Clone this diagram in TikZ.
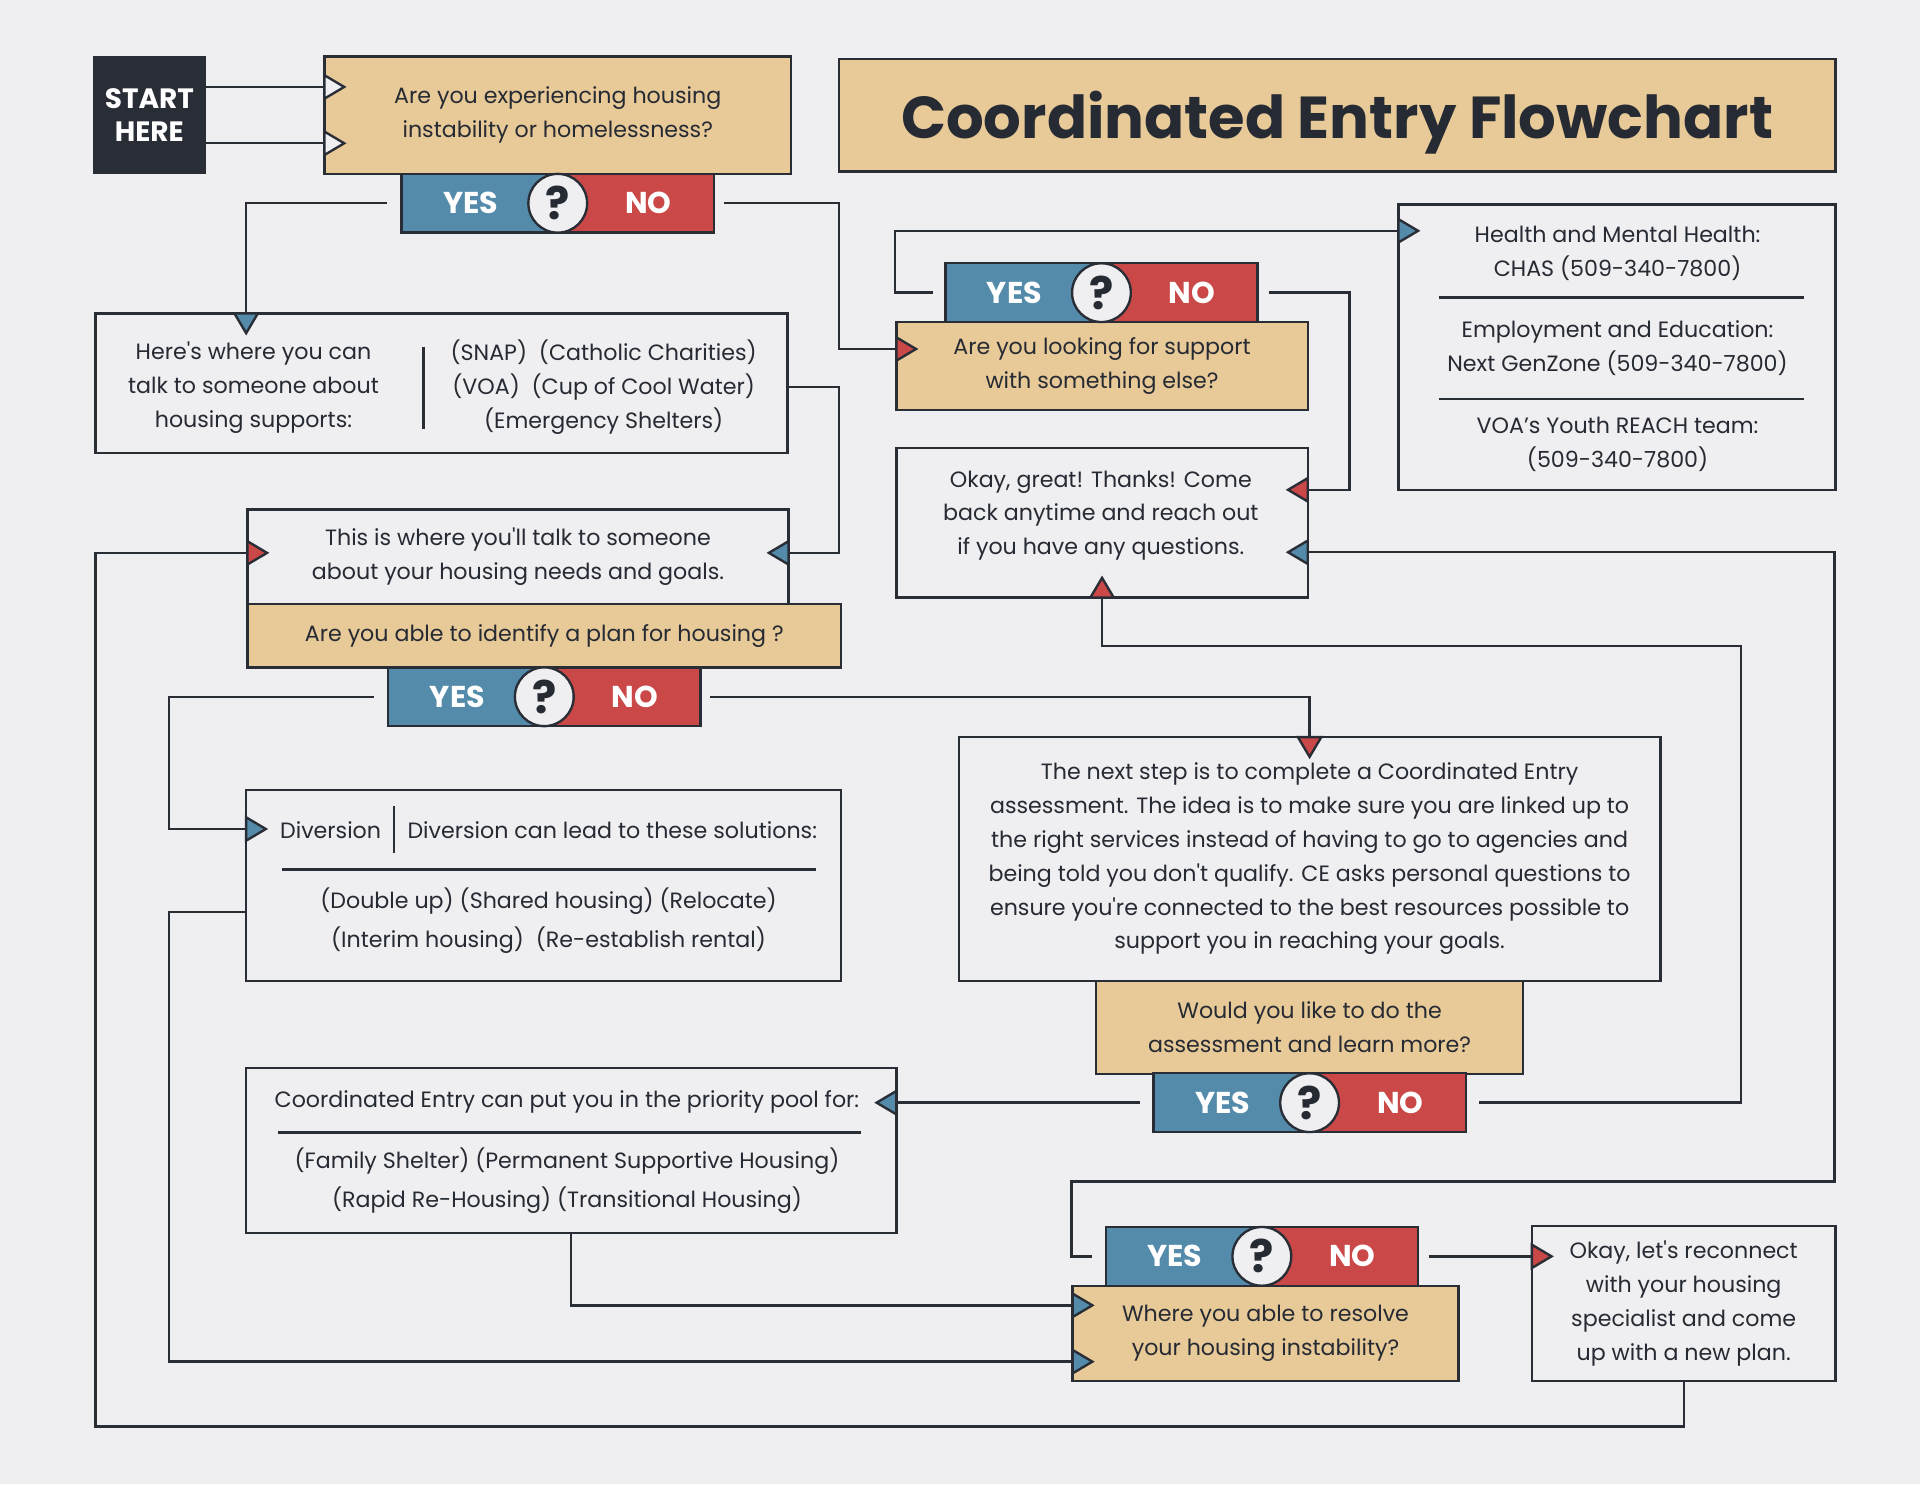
\documentclass[tikz,border=0pt]{standalone}
\usepackage{fontspec}
\setmainfont{Poppins}[Ligatures=TeXOff]
\usepackage{xcolor}
\usepackage{tikz}
\usetikzlibrary{arrows.meta, positioning, calc}

\definecolor{cbg}{RGB}{239,238,241}
\definecolor{cdark}{RGB}{40,45,54}
\definecolor{ctext}{RGB}{38,42,50}
\definecolor{ctan}{RGB}{232,202,153}
\definecolor{cblue}{RGB}{84,139,170}
\definecolor{cred}{RGB}{203,72,72}

\newcommand{\bodyfont}{\fontsize{10.3}{15.7}\selectfont}
\newcommand{\widefont}{\fontsize{10.3}{18.2}\selectfont}

\tikzset{
  %% Plain box (no fill colour of its own)
  ibox/.style={
    rectangle, draw=cdark, fill=cbg,
    line width=1.1pt, inner sep=0pt,
    align=center, font=\bodyfont
  },
  %% Question box
  qbox/.style={ibox, fill=ctan},
  %% Free text inside a box
  txt/.style={align=center, inner sep=0pt, font=\bodyfont},
  wide/.style={font=\widefont},
  %% Rules inside boxes
  rule/.style={draw=cdark, line width=1.1pt},
  %% Connector
  conn/.style={draw=cdark, line width=1.1pt, line join=miter},
  arrB/.style={-{Triangle[length=3.8mm,width=4.4mm,fill=cblue]}},
  arrR/.style={-{Triangle[length=3.8mm,width=4.4mm,fill=cred]}},
  arrW/.style={-{Triangle[length=3.8mm,width=4.4mm,fill=cbg]}},
  %% Start and title
  startbox/.style={
    rectangle, fill=cdark, text=white, align=center,
    minimum width=18.4mm, minimum height=19.2mm, inner sep=0pt,
    font=\fontsize{13}{15.4}\selectfont\bfseries
  },
  titlebox/.style={
    qbox, minimum width=162.8mm, minimum height=18.4mm,
    text depth=0pt,
    font=\fontsize{27.5}{27.5}\selectfont\bfseries
  },
  %% YES / ? / NO bar
  ynbar/.style={
    rectangle, draw=cdark, line width=1.1pt,
    minimum width=51mm, minimum height=9.6mm, inner sep=0pt,
    path picture={
      \fill[cblue] (path picture bounding box.south west)
        rectangle (path picture bounding box.north);
      \fill[cred] (path picture bounding box.south)
        rectangle (path picture bounding box.north east);
    }
  },
  ynq/.style={
    circle, draw=cdark, fill=cbg, line width=1.1pt,
    minimum size=9.6mm, inner sep=0pt, text=ctext,
    font=\fontsize{21}{21}\selectfont\bfseries
  },
  ynword/.style={text=white, inner sep=0pt,
    font=\fontsize{14}{14}\selectfont\bfseries},
  yesno/.pic={
    \node[ynbar] (-bar) at (0,0) {};
    \node[ynq] (-q) at (0,0) {?};
    \node[ynword] (-yes) at (-71,0) {YES};
    \node[ynword] (-no) at (74,0) {NO};
  },
}

\begin{document}
\begin{tikzpicture}[x=0.2mm, y=-0.2mm, text=ctext, font=\bodyfont]
  \fill[cbg, use as bounding box] (0,0) rectangle (1568,1212);

  % top row
  \node[startbox] (start) at (122,94) {START\\HERE};
  \node[qbox, minimum width=76.2mm, minimum height=19.2mm] (q1) at (455.5,94)
    {Are you experiencing housing\\instability or homelessness?};
  \node[titlebox] (title) at (1092,94) {Coordinated Entry Flowchart};
  \pic (yn1) at (455.5,166) {yesno};

  % left column
  \node[ibox, minimum width=113mm, minimum height=22.8mm] (here) at (360.5,313) {};
  \node[txt] (hereL) at (207,316.5) {Here's where you can\\talk to someone about\\housing supports:};
  \node[txt] (hereR) at (493,316) {(SNAP)\ \ (Catholic Charities)\\(VOA)\ \ (Cup of Cool Water)\\(Emergency Shelters)};
  \draw[rule] (346,283) -- (346,350);

  \node[ibox, minimum width=88.4mm, minimum height=15.4mm] (talk) at (423,454.5)
    {This is where you'll talk to someone\\about your housing needs and goals.};
  \node[qbox, minimum width=97mm, minimum height=10.4mm] (q3) at (444.5,519)
    {Are you able to identify a plan for housing ?};
  \pic (yn3) at (444.5,569) {yesno};

  \node[ibox, minimum width=97.2mm, minimum height=31.2mm] (div) at (444,723) {};
  \node[txt] (divA) at (270,678) {Diversion};
  \node[txt] (divB) at (500,678) {Diversion can lead to these solutions:};
  \draw[rule] (322,658) -- (322,697);
  \draw[rule] (230,710) -- (666,710);
  \node[txt, wide] (divC) at (448,752) {(Double up) (Shared housing) (Relocate)\\(Interim housing)\ \ (Re-establish rental)};

  \node[ibox, minimum width=106.2mm, minimum height=27mm] (prio) at (466.5,939.5) {};
  \node[txt] (prioA) at (463,900) {Coordinated Entry can put you in the priority pool for:};
  \draw[rule] (227,925) -- (703,925);
  \node[txt, wide] (prioB) at (463,964) {(Family Shelter) (Permanent Supportive Housing)\\(Rapid Re-Housing) (Transitional Housing)};

  % right side
  \node[qbox, minimum width=67.2mm, minimum height=14.4mm] (q2) at (900,299)
    {Are you looking for support\\with something else?};
  \pic (yn2) at (899.5,239) {yesno};
  \node[ibox, minimum width=67.2mm, minimum height=24.4mm] (okay) at (900,427) {};
  \node[txt] (okayT) at (899,421) {Okay, great! Thanks! Come\\back anytime and reach out\\if you have any questions.};

  \node[ibox, minimum width=71.4mm, minimum height=46.6mm] (health) at (1320.5,283.5) {};
  \node[txt] (h1) at (1321,207) {Health and Mental Health:\\CHAS (509-340-7800)};
  \draw[rule] (1175,243) -- (1473,243);
  \node[txt] (h2) at (1321,284.5) {Employment and Education:\\Next GenZone (509-340-7800)};
  \draw[rule] (1175,326) -- (1473,326);
  \node[txt] (h3) at (1321,363) {VOA’s Youth REACH team:\\(509-340-7800)};

  \node[ibox, minimum width=114.6mm, minimum height=39.8mm] (ce) at (1069.5,701.5)
    {The next step is to complete a Coordinated Entry\\assessment. The idea is to make sure you are linked up to\\the right services instead of having to go to agencies and\\being told you don't qualify. CE asks personal questions to\\ensure you're connected to the best resources possible to\\support you in reaching your goals.};
  \node[qbox, minimum width=69.8mm, minimum height=15.2mm] (q4) at (1069.5,839)
    {Would you like to do the\\assessment and learn more?};
  \pic (yn4) at (1069.5,900.5) {yesno};

  \node[qbox, minimum width=63mm, minimum height=15.6mm] (res) at (1033.5,1089)
    {Where you able to resolve\\your housing instability?};
  \pic (yn5) at (1030.5,1026) {yesno};
  \node[ibox, minimum width=49.6mm, minimum height=25.4mm] (recon) at (1375,1064.5)
    {Okay, let's reconnect\\with your housing\\specialist and come\\up with a new plan.};

  % connectors
  \draw[conn, arrW] ($(start.east)+(0,-23)$) -- ($(q1.west)+(19,-23)$);
  \draw[conn, arrW] ($(start.east)+(0,23)$) -- ($(q1.west)+(19,23)$);
  \draw[conn, arrB] ($(yn1-bar.west)+(-11,0)$) -| ($(here.north west)+(124,19)$);
  \draw[conn, arrR] ($(yn1-bar.east)+(7,0)$) -- ++(94,0) |- ($(q2.west)+(19,-14)$);
  \draw[conn, arrB] ($(here.east)+(0,3)$) -- ++(41,0) |- ($(talk.east)+(-19,-3)$);
  \draw[conn, arrR] (recon.south) -- ++(0,36) -- ++(-1297,0) |- ($(talk.west)+(19,-3)$);
  \draw[conn, arrB] ($(yn3-bar.west)+(-11,0)$) -- ++(-167,0) |- ($(div.west)+(19,-46)$);
  \draw[conn, arrR] ($(yn3-bar.east)+(7,0)$) -| ($(ce.north)+(0,19)$);
  \draw[conn, arrB] ($(div.west)+(0,22)$) -- ++(-62,0) |- ($(res.west)+(19,23)$);
  \draw[conn, arrB] (prio.south) |- ($(res.west)+(19,-23)$);
  \draw[conn, arrB] ($(yn4-bar.west)+(-10,0)$) -- ($(yn4-bar.west -| prio.east)+(-19,0)$);
  \draw[conn, arrR] ($(yn4-bar.east)+(10,0)$) -- ++(214,0) -- ++(0,-373) -| ($(okay.south)+(0,-19)$);
  \draw[conn, arrB] ($(yn2-bar.west)+(-9,0)$) -- ++(-31,0) |- ($(health.west)+(19,-95)$);
  \draw[conn, arrR] ($(yn2-bar.east)+(8,0)$) -- ++(66,0) |- ($(okay.east)+(-19,-27)$);
  \draw[conn, arrB] ($(yn5-bar.west)+(-10,0)$) -- ++(-17,0) -- ++(0,-61) -- ++(623,0) |- ($(okay.east)+(-19,24)$);
  \draw[conn, arrR] ($(yn5-bar.east)+(8,0)$) -- ($(yn5-bar.east -| recon.west)+(19,0)$);
\end{tikzpicture}
\end{document}
